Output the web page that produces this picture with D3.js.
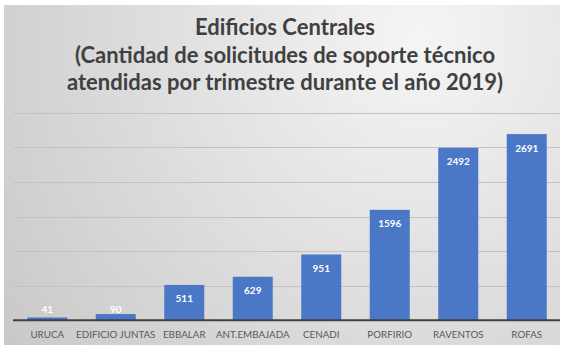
<!DOCTYPE html>
<html>
<head>
<meta charset="utf-8">
<script src="https://cdn.jsdelivr.net/npm/d3@7"></script>
<style>
  body { margin: 0; background: #fff; }
  svg { display: block; }
</style>
</head>
<body>
<div id="chart"></div>
<script>
// Chart data
const titleLines = ["Edificios Centrales", "(Cantidad de solicitudes de soporte técnico", "atendidas por trimestre durante el año 2019)"];
const categories = ["URUCA", "EDIFICIO JUNTAS", "EBBALAR", "ANT.EMBAJADA", "CENADI", "PORFIRIO", "RAVENTOS", "ROFAS"];
const values = [41, 90, 511, 629, 951, 1596, 2492, 2691];
const yTicks = [0, 500, 1000, 1500, 2000, 2500, 3000];

const width = 564, height = 345;
const svg = d3.select("#chart").append("svg")
  .attr("width", width)
  .attr("height", height);

// background gradient
const defs = svg.append("defs");
const grad = defs.append("radialGradient")
  .attr("id", "bg")
  .attr("gradientUnits", "userSpaceOnUse")
  .attr("cx", 420).attr("cy", 40).attr("r", 520);
grad.append("stop").attr("offset", "0%").attr("stop-color", "#f5f5f5");
grad.append("stop").attr("offset", "100%").attr("stop-color", "#c8c8c8");

svg.append("rect")
  .attr("x", 4).attr("y", 5)
  .attr("width", 556).attr("height", 340)
  .attr("fill", "url(#bg)");

// Title
const titleFont = "Lato, 'Open Sans', sans-serif";
const title = svg.append("g");
const baselines = [35, 63, 90];
title.selectAll("text")
  .data(titleLines)
  .enter().append("text")
  .attr("x", 285)
  .attr("y", (d, i) => baselines[i])
  .attr("text-anchor", "middle")
  .attr("font-family", titleFont)
  .attr("font-weight", "bold")
  .attr("font-size", 20)
  .attr("fill", "#404040")
  .text(d => d);

// fit line 3 to measured width
const t3 = title.selectAll("text").nodes()[2];
const w3 = t3.getComputedTextLength();
const fs = 20 * 436 / w3;
title.selectAll("text").attr("font-size", fs);

// Scales
const x = d3.scaleBand()
  .domain(categories)
  .range([13, 561])
  .paddingInner(0.416)
  .paddingOuter(0.208);
const y = d3.scaleLinear()
  .domain([0, 3000])
  .range([320.3, 112.7]);

// gridlines
svg.append("g")
  .selectAll("line")
  .data(yTicks.slice(1))
  .enter().append("line")
  .attr("x1", 13).attr("x2", 560)
  .attr("y1", d => Math.round(y(d)) + 0.5)
  .attr("y2", d => Math.round(y(d)) + 0.5)
  .attr("stroke", "#c2c2c2")
  .attr("stroke-width", 1);

// bars
const bars = svg.append("g")
  .selectAll("g")
  .data(categories.map((c, i) => ({ cat: c, val: values[i] })))
  .enter().append("g");

bars.append("rect")
  .attr("x", d => x(d.cat))
  .attr("y", d => y(d.val))
  .attr("width", x.bandwidth())
  .attr("height", d => y(0) - y(d.val))
  .attr("fill", "#4a78c6");

bars.append("text")
  .attr("x", d => x(d.cat) + x.bandwidth() / 2)
  .attr("y", d => Math.min(y(d.val) + 14, y(0) - 11))
  .attr("dy", "0.35em")
  .attr("text-anchor", "middle")
  .attr("font-family", titleFont)
  .attr("font-weight", "bold")
  .attr("font-size", 10)
  .attr("fill", "#ffffff")
  .text(d => d.val);

// x axis
const xAxis = svg.append("g")
  .attr("transform", `translate(0, ${y(0)})`)
  .call(d3.axisBottom(x).tickSize(0).tickPadding(11));
xAxis.select(".domain")
  .attr("d", "M13,0H560")
  .attr("stroke", "#404040")
  .attr("stroke-width", 2);
xAxis.selectAll("text")
  .attr("font-family", titleFont)
  .attr("font-size", 9.8)
  .attr("fill", "#595959");
</script>
</body>
</html>
